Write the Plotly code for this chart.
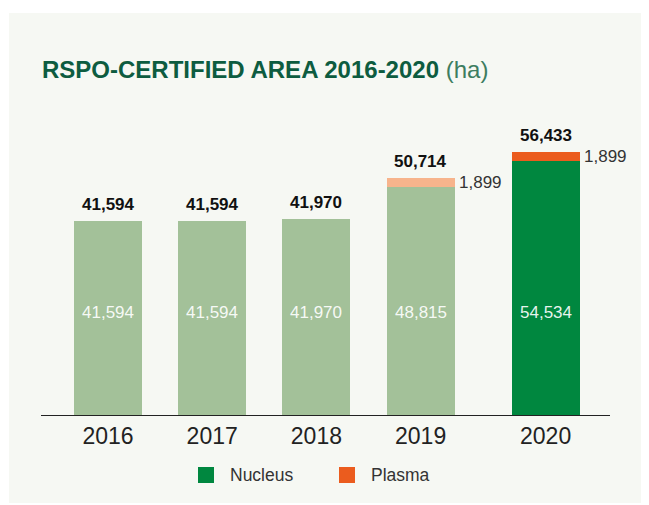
import plotly.graph_objects as go

years = ["2016", "2017", "2018", "2019", "2020"]
nucleus = [41594, 41594, 41970, 48815, 54534]
plasma = [0, 0, 0, 1899, 1899]
totals = [41594, 41594, 41970, 50714, 56433]

FONT = "Liberation Sans, Arial, Helvetica, sans-serif"
PALE_GREEN = "#a3c199"
DARK_GREEN = "#00873f"
PALE_ORANGE = "#f7b48c"
ORANGE = "#eb5c1e"
BAR_W = 0.653

# the page body adds an 8px margin, so the figure is drawn 8px smaller
W, H, OFF = 641, 497, 8

# the latest year sits a little further from the others
x_pos = [i + (0.2 if i == len(years) - 1 else 0) for i in range(len(years))]
nucleus_colors = [PALE_GREEN] * (len(years) - 1) + [DARK_GREEN]
plasma_colors = [PALE_ORANGE] * (len(years) - 1) + [ORANGE]

fig = go.Figure()
fig.add_trace(go.Bar(
    x=x_pos, y=nucleus, width=BAR_W, name="Nucleus",
    marker=dict(color=nucleus_colors, line=dict(width=0)),
    showlegend=False, hoverinfo="skip",
))
fig.add_trace(go.Bar(
    x=x_pos, y=plasma, width=BAR_W, name="Plasma",
    marker=dict(color=plasma_colors, line=dict(width=0)),
    showlegend=False, hoverinfo="skip",
))

annotations = []
for x, n, p, t in zip(x_pos, nucleus, plasma, totals):
    annotations.append(dict(
        x=x, y=t, text=f"<b>{t:,}</b>", showarrow=False,
        yanchor="bottom", yshift=5,
        font=dict(family=FONT, size=17, color="#111111"),
    ))
    annotations.append(dict(
        x=x, y=21900, text=f"{n:,}", showarrow=False,
        font=dict(family=FONT, size=17, color="rgba(255,255,255,0.92)"),
    ))
    if p:
        annotations.append(dict(
            x=x + BAR_W / 2, y=n + p / 2, text=f"{p:,}", showarrow=False,
            xanchor="left", xshift=2,
            font=dict(family=FONT, size=17, color="#333333"),
        ))

# legend drawn by hand so the swatches match the reference size
for px0, label, color in [(198, "Nucleus", DARK_GREEN), (339, "Plasma", ORANGE)]:
    fig.add_shape(type="rect", xref="paper", yref="paper",
                  x0=(px0 - 41) / 569, x1=(px0 + 16 - 41) / 569,
                  y0=(415 - 483) / 305, y1=(415 - 467) / 305,
                  fillcolor=color, line=dict(width=0))
    annotations.append(dict(
        xref="paper", yref="paper", x=(px0 + 30 - 41) / 569, y=(415 - 475) / 305,
        text=label, showarrow=False, xanchor="left", yanchor="middle",
        font=dict(family=FONT, size=17.5, color="#333333"),
    ))

# light panel behind the chart
fig.add_shape(type="rect", xref="paper", yref="paper", layer="below",
              x0=(9 - 41) / 569, x1=(660 - 41) / 569,
              y0=(415 - 503) / 305, y1=(415 - 13) / 305,
              fillcolor="#f6f8f3", line=dict(width=0))

fig.update_layout(
    width=W, height=H,
    barmode="stack",
    title=dict(
        text="<b>RSPO-CERTIFIED AREA 2016-2020</b> <span style='color:#3d7d60'>(ha)</span>",
        x=(42 - OFF) / W, xanchor="left", xref="container",
        y=1 - (70 - OFF) / H, yanchor="middle", yref="container",
        font=dict(family=FONT, size=24, color="#0d5c40"),
    ),
    xaxis=dict(
        range=[-0.643, 4.818], tickvals=x_pos, ticktext=years,
        showline=True, linecolor="#222222", linewidth=1.3,
        showgrid=False, zeroline=False, ticks="",
        tickfont=dict(family=FONT, size=23, color="#222222"),
        fixedrange=True,
    ),
    yaxis=dict(range=[0, 65395], visible=False, fixedrange=True),
    annotations=annotations,
    plot_bgcolor="rgba(0,0,0,0)", paper_bgcolor="white",
    margin=dict(l=41 - OFF, r=39, t=110 - OFF, b=90),
    showlegend=False,
)

fig.write_html("out.html")
